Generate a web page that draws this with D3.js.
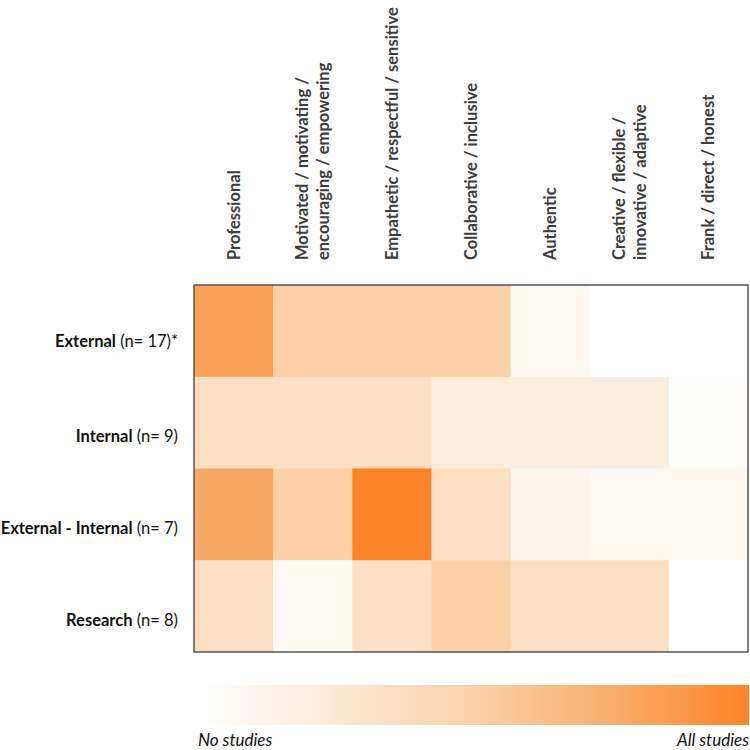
<!DOCTYPE html>
<html>
<head>
<meta charset="utf-8">
<script src="https://cdn.jsdelivr.net/npm/d3@7"></script>
<style>
  body { margin: 0; background: #fff; }
  svg { font-family: Lato, "Open Sans", sans-serif; }
</style>
</head>
<body>
<div id="chart"></div>
<script>
// Leadership attributes by type of evaluation (share of studies)
var attributes = [
    ["Professional"],
    ["Motivated / motivating /", "encouraging / empowering"],
    ["Empathetic / respectful / sensitive"],
    ["Collaborative / inclusive"],
    ["Authentic"],
    ["Creative / flexible /", "innovative / adaptive"],
    ["Frank / direct / honest"]
];

var groups = ["External", "Internal", "External - Internal", "Research"];
var groupN = ["(n= 17)*", "(n= 9)", "(n= 7)", "(n= 8)"];

// proportion of studies, one array per group
var externalValues = [0.82, 0.50, 0.50, 0.50, 0.08, 0, 0];
var internalValues = [0.35, 0.35, 0.35, 0.20, 0.20, 0.20, 0.02];
var extIntValues   = [0.77, 0.50, 1.00, 0.35, 0.11, 0.08, 0.08];
var researchValues = [0.35, 0.07, 0.33, 0.50, 0.35, 0.35, 0];
var allValues = [externalValues, internalValues, extIntValues, researchValues];

var legendStops = [0, 0.25, 0.5, 0.75, 1];
var legendColors = ["#ffffff", "#fce8d3", "#fbd0a6", "#f8ad69", "#fd8427"];

var width = 750,
    height = 750,
    margin = { left: 194, top: 285, right: 2, bottom: 98 };

var color = d3.scaleLinear().domain(legendStops).range(legendColors);

var svg = d3.select("#chart").append("svg")
    .attr("width", width)
    .attr("height", height);

var x = d3.scaleBand()
    .domain(d3.range(attributes.length))
    .range([margin.left, width - margin.right]);

var y = d3.scaleBand()
    .domain(groups)
    .range([margin.top, height - margin.bottom]);

// cells
var cells = [];
allValues.forEach(function(row, r) {
    row.forEach(function(v, c) {
        cells.push({ group: groups[r], col: c, value: v });
    });
});

svg.append("g").selectAll("rect")
    .data(cells)
    .enter()
    .append("rect")
    .attr("x", function(d) { return x(d.col); })
    .attr("y", function(d) { return y(d.group); })
    .attr("width", x.bandwidth() + 0.5)
    .attr("height", y.bandwidth() + 0.5)
    .attr("fill", function(d) { return color(d.value); });

// frame round the grid
svg.append("rect")
    .attr("x", x.range()[0])
    .attr("y", y.range()[0])
    .attr("width", x.range()[1] - x.range()[0])
    .attr("height", y.range()[1] - y.range()[0])
    .attr("fill", "none")
    .attr("stroke", "#555")
    .attr("stroke-width", 1.5);

// column labels, rotated
var colLabels = svg.append("g").selectAll("text")
    .data(attributes)
    .enter()
    .append("text")
    .attr("transform", function(d, i) {
        return "translate(" + (x(i) + x.bandwidth() / 2) + ",260) rotate(-90)";
    })
    .attr("font-size", 16.5)
    .attr("font-weight", "bold")
    .attr("fill", "#3c3c3c");

colLabels.selectAll("tspan")
    .data(function(d) { return d; })
    .enter()
    .append("tspan")
    .attr("x", 0)
    .attr("y", function(d, i, nodes) {
        var n = nodes.length;
        return (i - (n - 1) / 2) * 21;
    })
    .attr("dy", "0.36em")
    .text(function(d) { return d; });

// row labels
var rowLabels = svg.append("g").selectAll("text")
    .data(groups)
    .enter()
    .append("text")
    .attr("x", 178)
    .attr("y", function(d, i) { return y(d) + y.bandwidth() / 2 + (i === 0 ? 10 : 14); })
    .attr("text-anchor", "end")
    .attr("dy", "0.35em")
    .attr("font-size", 16.5)
    .attr("fill", "#111");

rowLabels.append("tspan")
    .attr("font-weight", "bold")
    .text(function(d) { return d; });

rowLabels.append("tspan")
    .text(function(d, i) { return " " + groupN[i]; });

// legend bar
var defs = svg.append("defs");
var grad = defs.append("linearGradient")
    .attr("id", "legendGrad")
    .attr("x1", "0%").attr("x2", "100%")
    .attr("y1", "0%").attr("y2", "0%");

grad.selectAll("stop")
    .data(d3.range(0, 1.0001, 0.05))
    .enter()
    .append("stop")
    .attr("offset", function(d) { return (d * 100) + "%"; })
    .attr("stop-color", function(d) { return color(d); });

var legendX = d3.scaleLinear().domain([0, 1]).range([205, 749]);

svg.append("rect")
    .attr("x", legendX(0))
    .attr("y", 685)
    .attr("width", legendX(1) - legendX(0))
    .attr("height", 40)
    .attr("fill", "url(#legendGrad)");

svg.append("text")
    .attr("x", 198)
    .attr("y", 746)
    .attr("font-size", 17)
    .attr("font-style", "italic")
    .attr("fill", "#111")
    .text("No studies");

svg.append("text")
    .attr("x", legendX(1))
    .attr("y", 746)
    .attr("text-anchor", "end")
    .attr("font-size", 17)
    .attr("font-style", "italic")
    .attr("fill", "#111")
    .text("All studies");
</script>
</body>
</html>
